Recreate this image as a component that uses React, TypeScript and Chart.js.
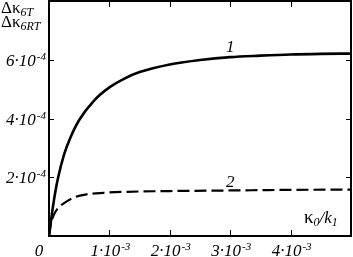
import React, { useEffect, useRef } from "react";
import { Chart, registerables } from "chart.js";

Chart.register(...registerables);

// Curve 1 (solid)
const x1 = [0, 0.00005, 0.0001, 0.00015, 0.00025, 0.00035, 0.0005, 0.00075, 0.001, 0.00125, 0.0015, 0.002, 0.0025, 0.003, 0.0035, 0.004, 0.0045, 0.005];
const y1 = [0, 0.000078, 0.000145, 0.000198, 0.000278, 0.000333, 0.000395, 0.000462, 0.000506, 0.000536, 0.000558, 0.000584, 0.000599, 0.000609, 0.000614, 0.000618, 0.00062, 0.000621];
// Curve 2 (dashed)
const x2 = [0, 0.00003, 0.00008, 0.00015, 0.00025, 0.0004, 0.0006, 0.0009, 0.0013, 0.002, 0.003, 0.004, 0.005];
const y2 = [0, 0.00004, 0.000072, 0.000095, 0.000112, 0.00013, 0.000141, 0.000147, 0.0001505, 0.000153, 0.000155, 0.000157, 0.000158];

const xTicks = [0.001, 0.002, 0.003, 0.004];
const xTickBase = ["1·10", "2·10", "3·10", "4·10"];
const xTickExp = "-3";
const yTicks = [0.0002, 0.0004, 0.0006];
const yTickBase = ["2·10", "4·10", "6·10"];
const yTickExp = "-4";
const curveLabels = ["1", "2"];
const curveLabelAt = [
  { x: 0.003, y: 0.000628 },
  { x: 0.003, y: 0.000166 },
];

const SERIF = "'Liberation Serif', 'DejaVu Serif', serif";

function drawSup(ctx: CanvasRenderingContext2D, base: string, sup: string, x: number, y: number, align: "left" | "right" | "center") {
  ctx.font = `italic 17px ${SERIF}`;
  const wb = ctx.measureText(base).width;
  ctx.font = `italic 11px ${SERIF}`;
  const ws = ctx.measureText(sup).width;
  const total = wb + ws + 1;
  let sx = x;
  if (align === "right") sx = x - total;
  else if (align === "center") sx = x - total / 2;
  ctx.textAlign = "left";
  ctx.textBaseline = "alphabetic";
  ctx.font = `italic 17px ${SERIF}`;
  ctx.fillText(base, sx, y);
  ctx.font = `italic 11px ${SERIF}`;
  ctx.fillText(sup, sx + wb + 1, y - 6);
}

function drawSub(ctx: CanvasRenderingContext2D, parts: { t: string; sub?: boolean; italic?: boolean; size?: number }[], x: number, y: number) {
  let cx = x;
  ctx.textAlign = "left";
  ctx.textBaseline = "alphabetic";
  for (const p of parts) {
    const size = p.size ?? (p.sub ? 12 : 16);
    ctx.font = `${p.italic ? "italic " : ""}${size}px ${SERIF}`;
    ctx.fillText(p.t, cx, p.sub ? y + 3 : y);
    cx += ctx.measureText(p.t).width;
  }
}

const decor = {
  id: "decor",
  afterDatasetsDraw(chart: any) {
    const { ctx, chartArea: a, scales } = chart;
    const xs = scales.x;
    const ys = scales.y;
    ctx.save();
    ctx.strokeStyle = "#000";
    ctx.fillStyle = "#000";
    ctx.lineWidth = 2;
    ctx.strokeRect(a.left, a.top, a.right - a.left, a.bottom - a.top);
    ctx.lineWidth = 1;
    ctx.beginPath();
    xTicks.forEach((v) => {
      const px = Math.round(xs.getPixelForValue(v)) + 0.5;
      ctx.moveTo(px, a.bottom);
      ctx.lineTo(px, a.bottom - 6);
      ctx.moveTo(px, a.top);
      ctx.lineTo(px, a.top + 6);
    });
    yTicks.forEach((v) => {
      const py = Math.round(ys.getPixelForValue(v)) + 0.5;
      ctx.moveTo(a.left, py);
      ctx.lineTo(a.left + 5, py);
      ctx.moveTo(a.right, py);
      ctx.lineTo(a.right - 5, py);
    });
    ctx.stroke();

    xTicks.forEach((v, i) => {
      drawSup(ctx, xTickBase[i], xTickExp, xs.getPixelForValue(v) + 1, 256, "center");
    });
    ctx.font = `italic 17px ${SERIF}`;
    ctx.textAlign = "center";
    ctx.fillText("0", 39, 256);
    yTicks.forEach((v, i) => {
      drawSup(ctx, yTickBase[i], yTickExp, 46, ys.getPixelForValue(v) + 6, "right");
    });

    drawSub(ctx, [{ t: "Δκ", size: 17 }, { t: "6T", sub: true, italic: true }], 1, 13);
    drawSub(ctx, [{ t: "Δκ", size: 17 }, { t: "6RT", sub: true, italic: true }], 1, 27);
    drawSub(
      ctx,
      [
        { t: "κ", size: 19 },
        { t: "0", sub: true, italic: true },
        { t: "/k", italic: true, size: 17 },
        { t: "1", sub: true, italic: true },
      ],
      304,
      223
    );

    ctx.font = `italic 17px ${SERIF}`;
    ctx.textAlign = "center";
    curveLabels.forEach((t, i) => {
      ctx.fillText(t, xs.getPixelForValue(curveLabelAt[i].x), ys.getPixelForValue(curveLabelAt[i].y));
    });
    ctx.restore();
  },
};

export default function App() {
  const ref = useRef<HTMLCanvasElement>(null);
  useEffect(() => {
    document.body.style.margin = "0";
    const chart = new Chart(ref.current!, {
      type: "scatter",
      data: {
        datasets: [
          {
            data: x1.map((x, i) => ({ x, y: y1[i] })),
            showLine: true,
            borderColor: "#000",
            borderWidth: 2.6,
            pointRadius: 0,
            cubicInterpolationMode: "monotone",
          },
          {
            data: x2.map((x, i) => ({ x, y: y2[i] })),
            showLine: true,
            borderColor: "#000",
            borderWidth: 2.2,
            borderDash: [12, 5],
            pointRadius: 0,
            cubicInterpolationMode: "monotone",
          },
        ],
      },
      options: {
        animation: false,
        responsive: false,
        maintainAspectRatio: false,
        layout: { padding: { left: 49, right: 2, top: 1, bottom: 21 } },
        plugins: { legend: { display: false }, tooltip: { enabled: false } },
        scales: {
          x: { type: "linear", min: 0, max: 0.005, display: false },
          y: { type: "linear", min: 0, max: 0.0008, display: false },
        },
      },
      plugins: [decor],
    });
    return () => chart.destroy();
  }, []);
  return (
    <div style={{ position: "fixed", left: 0, top: 0, width: 353, height: 257, background: "#fff" }}>
      <canvas ref={ref} width={353} height={257} style={{ display: "block" }} />
    </div>
  );
}
